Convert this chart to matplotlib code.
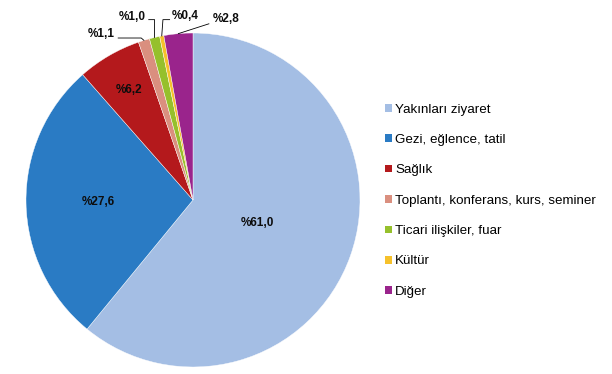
import numpy as np
import matplotlib.pyplot as plt
from matplotlib.patches import Patch

plt.rcParams["font.family"] = ["Liberation Sans", "DejaVu Sans"]

categories = [
    "Yakınları ziyaret",
    "Gezi, eğlence, tatil",
    "Sağlık",
    "Toplantı, konferans, kurs, seminer",
    "Ticari ilişkiler, fuar",
    "Kültür",
    "Diğer",
]
shares = [61.0, 27.6, 6.2, 1.1, 1.0, 0.4, 2.8]
labels = ["%61,0", "%27,6", "%6,2", "%1,1", "%1,0", "%0,4", "%2,8"]
colors = ["#A4BEE4", "#2A7BC4", "#B4191C", "#DA8F7F", "#96C02C", "#F6C12B", "#9A248C"]

fig = plt.figure(figsize=(6.12, 3.74), dpi=100)
ax = fig.add_axes([26 / 612, 7 / 374, 334 / 612, 334 / 374])

wedges, _ = ax.pie(shares, colors=colors, startangle=90, counterclock=False,
                   wedgeprops=dict(linewidth=0.3, edgecolor="white"))
ax.set_xlim(-1, 1)
ax.set_ylim(-1, 1)
ax.set_aspect("equal")

# inside labels (radius factor along mid angle)
inside = {0: 0.41, 1: 0.565, 2: 0.76}
for i, r in inside.items():
    w = wedges[i]
    mid = np.deg2rad((w.theta1 + w.theta2) / 2)
    ax.text(r * np.cos(mid), r * np.sin(mid), labels[i], ha="center", va="center",
            fontsize=8.5, fontweight="bold", color="#0d0d0d")

# outside labels with leader lines
outside = {
    3: (-0.548, 0.994),
    4: (-0.365, 1.098),
    5: (-0.045, 1.10),
    6: (0.20, 1.084),
}
for i, tpos in outside.items():
    w = wedges[i]
    mid = np.deg2rad((w.theta1 + w.theta2) / 2)
    px, py = np.cos(mid), np.sin(mid)
    ax.text(tpos[0], tpos[1], labels[i], ha="center", va="center",
            fontsize=8.5, fontweight="bold", color="#0d0d0d", clip_on=False)
    if i == 3:
        xs = [tpos[0] + 0.10, -0.31, px]
        ys = [0.97, 0.97, py]
    elif i == 4:
        xs = [tpos[0] + 0.10, -0.23, px]
        ys = [1.08, 1.08, py]
    elif i == 5:
        xs = [tpos[0] - 0.095, -0.18, px]
        ys = [1.08, 1.08, py]
    else:
        xs = [tpos[0] - 0.105, px]
        ys = [1.055, py]
    ax.plot(xs, ys, color="black", linewidth=0.6, clip_on=False)

handles = [Patch(facecolor=c, edgecolor="none") for c in colors]
fig.legend(handles, categories, loc="upper left",
           bbox_to_anchor=(385 / 612, 1 - 103.5 / 374), frameon=False,
           fontsize=9.6, handlelength=0.5, handleheight=0.5, handletextpad=0.25,
           labelspacing=1.38, borderpad=0, borderaxespad=0)

fig.savefig("out.png", dpi=100)
